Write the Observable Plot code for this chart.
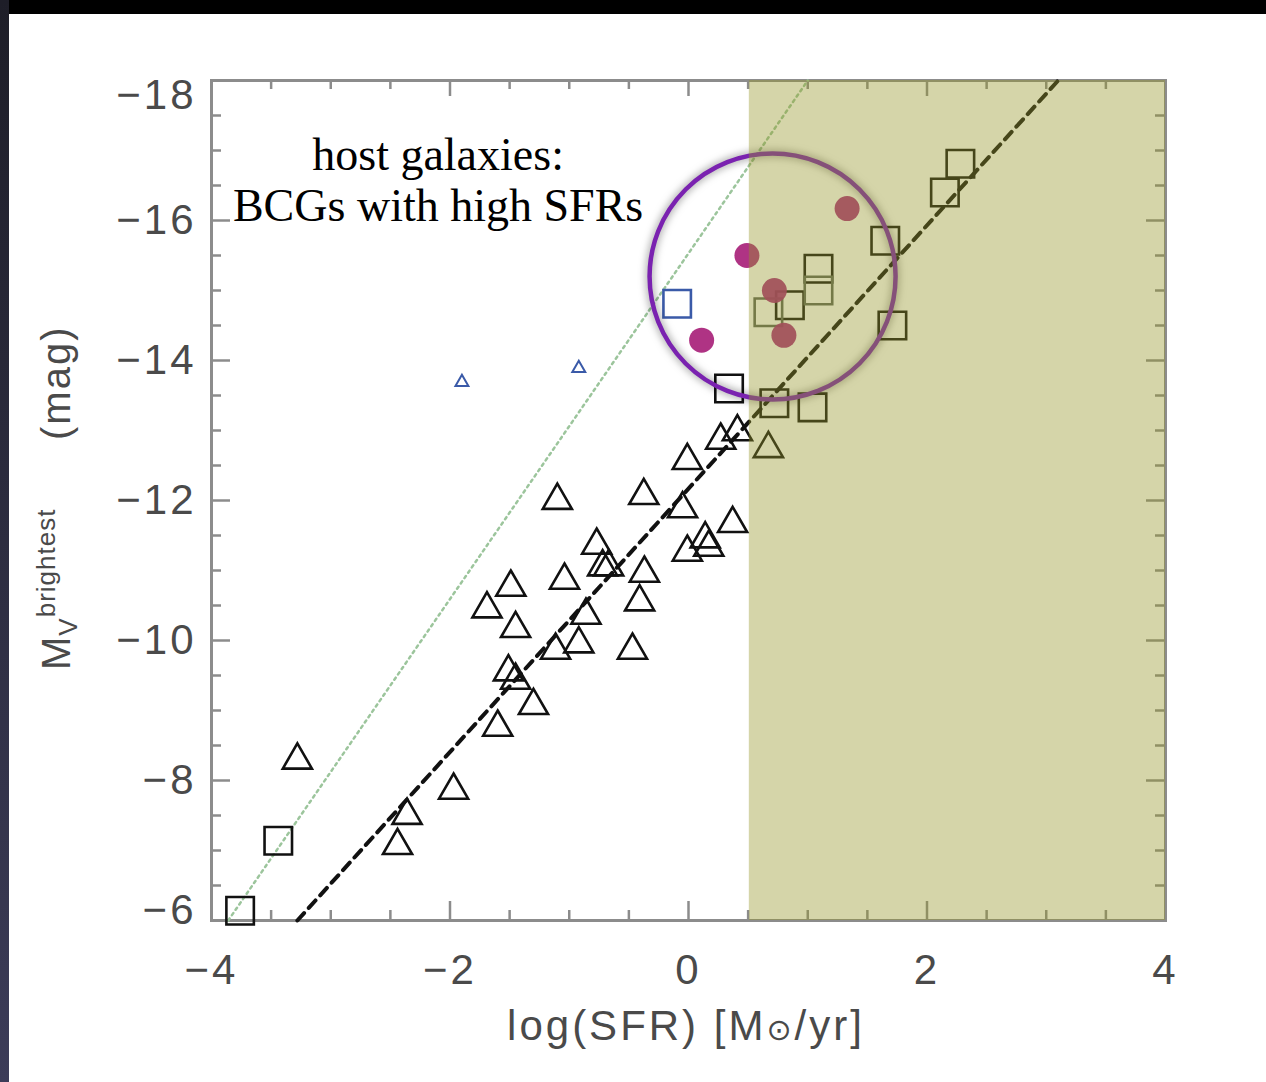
<!DOCTYPE html>
<html><head><meta charset="utf-8">
<script src="https://cdn.jsdelivr.net/npm/d3@7"></script>
<script src="https://cdn.jsdelivr.net/npm/@observablehq/plot@0.6"></script>
<style>
html,body{margin:0;padding:0;background:#fff;width:1266px;height:1082px;overflow:hidden;}
#wrap{position:relative;width:1266px;height:1082px;}
#topband{position:absolute;left:0;top:0;width:1266px;height:14px;background:#000;}
#leftband{position:absolute;left:0;top:0;width:9px;height:1082px;background:linear-gradient(#1e1e28,#3c3c58);}
.ring circle{filter:drop-shadow(0 0 4px rgba(0,0,0,0.55));}
.ticklab text{letter-spacing:3px;}
</style></head><body><div id="wrap"></div>
<script>
// ---- data ----
// open triangles (black)
const triSFR = [-3.28,-2.36,-2.44,-1.97,-1.60,-1.69,-1.49,-1.45,-1.51,-1.45,-1.30,-1.10,-1.04,-1.115,-0.92,-0.86,-0.77,-0.72,-0.67,-0.47,-0.41,-0.37,-0.375,-0.01,-0.05,-0.01,0.14,0.17,0.37,0.27,0.41,0.67];
const triMV  = [-8.29,-7.50,-7.07,-7.86,-8.76,-10.45,-10.76,-10.17,-9.55,-9.43,-9.07,-12.00,-10.86,-9.86,-9.95,-10.36,-11.36,-11.05,-11.05,-9.86,-10.55,-10.96,-12.07,-12.57,-11.88,-11.26,-11.45,-11.33,-11.67,-12.86,-12.98,-12.74];
// open squares (black)
const sqSFR = [-3.76,-3.44,0.34,0.72,1.04,0.85,1.09,1.65,1.71,2.15,2.28];
const sqMV  = [-6.14,-7.14,-13.60,-13.39,-13.33,-14.79,-15.31,-15.71,-14.50,-16.40,-16.81];
// open squares (grey)
const greySqSFR = [0.67,1.09];
const greySqMV  = [-14.69,-15.00];
// blue square and small blue triangles
const blueSqSFR = [-0.095];
const blueSqMV  = [-14.81];
const blueTriSFR = [-1.90,-0.92];
const blueTriMV  = [-13.69,-13.89];
// filled purple circles (host galaxies)
const hostSFR = [1.33,0.49,0.72,0.80,0.11];
const hostMV  = [-16.17,-15.50,-15.00,-14.36,-14.29];
// relations
const dashedSFR = [-3.28,3.10];
const dashedMV  = [-6,-18];
const dottedSFR = [-3.86,1.00];
const dottedMV  = [-6,-18];
// shaded high-SFR region
const shadeSFR = [0.51,4];
const shadeMV  = [-6,-18];
// highlight ring
const ringSFR = [0.705];
const ringMV  = [-15.2];
// annotation
const noteText = ["host galaxies:\nBCGs with high SFRs"];
const noteSFR = [-2.10];
const noteMV  = [-16.62];
// ticks
const xMajorTicks = [-4,-2,0,2,4];
const xMinorTicks = [-3.5,-3,-2.5,-1.5,-1,-0.5,0.5,1,1.5,2.5,3,3.5];
const yMajorTicks = [-18,-16,-14,-12,-10,-8,-6];
const yMinorTicks = [-17.5,-17,-16.5,-15.5,-15,-14.5,-13.5,-13,-12.5,-11.5,-11,-10.5,-9.5,-9,-8.5,-7.5,-7,-6.5];
const yInnerLabels = [-16,-14,-12,-10,-8];

const pts = (xs, ys) => xs.map((x, i) => ({x, y: ys[i]}));

const W = 1266, H = 1082, mL = 211, mR = 101, mT = 80, mB = 162;
const iW = W - mL - mR, iH = H - mT - mB;
const axisGrey = "#8c8c8c";
const labGrey = "#4a4a4a";

const plot = Plot.plot({
  width: W, height: H,
  marginLeft: mL, marginRight: mR, marginTop: mT, marginBottom: mB,
  x: {domain: [-4, 4], label: null},
  y: {domain: [-6, -18], label: null},
  style: {background: "transparent", fontFamily: "'Liberation Sans', Arial, sans-serif"},
  marks: [
    Plot.frame({stroke: axisGrey, strokeWidth: 3}),
    Plot.tickX(xMajorTicks, {x: d => d, insetTop: iH - 19, stroke: axisGrey, strokeWidth: 2.5}),
    Plot.tickX(xMajorTicks, {x: d => d, insetBottom: iH - 16, stroke: axisGrey, strokeWidth: 2.5}),
    Plot.tickX(xMinorTicks, {x: d => d, insetTop: iH - 10, stroke: axisGrey, strokeWidth: 2.5}),
    Plot.tickX(xMinorTicks, {x: d => d, insetBottom: iH - 9, stroke: axisGrey, strokeWidth: 2.5}),
    Plot.tickY(yMajorTicks, {y: d => d, insetRight: iW - 19, stroke: axisGrey, strokeWidth: 2.5}),
    Plot.tickY(yMajorTicks, {y: d => d, insetLeft: iW - 19, stroke: axisGrey, strokeWidth: 2.5}),
    Plot.tickY(yMinorTicks, {y: d => d, insetRight: iW - 10, stroke: axisGrey, strokeWidth: 2.5}),
    Plot.tickY(yMinorTicks, {y: d => d, insetLeft: iW - 10, stroke: axisGrey, strokeWidth: 2.5}),
    Plot.line(pts(dottedSFR, dottedMV), {x: "x", y: "y", stroke: "#9cc59c", strokeWidth: 2.5, strokeDasharray: "2.5,4"}),
    Plot.line(pts(dashedSFR, dashedMV), {x: "x", y: "y", stroke: "#111", strokeWidth: 4, strokeDasharray: "10,7"}),
    Plot.dot(pts(triSFR, triMV), {x: "x", y: "y", symbol: "triangle", r: 10.8, stroke: "#111", strokeWidth: 2.6, fill: "none"}),
    Plot.dot(pts(blueTriSFR, blueTriMV), {x: "x", y: "y", symbol: "triangle", r: 4.8, stroke: "#3a5aa8", strokeWidth: 2, fill: "none"}),
    Plot.dot(pts(sqSFR, sqMV), {x: "x", y: "y", symbol: "square", r: 15.5, stroke: "#111", strokeWidth: 2.6, fill: "none"}),
    Plot.dot(pts(greySqSFR, greySqMV), {x: "x", y: "y", symbol: "square", r: 15.5, stroke: "#5e665c", strokeWidth: 2.6, fill: "none"}),
    Plot.dot(pts(blueSqSFR, blueSqMV), {x: "x", y: "y", symbol: "square", r: 15.5, stroke: "#3a5aa8", strokeWidth: 2.6, fill: "none"}),
    Plot.dot(pts(hostSFR, hostMV), {x: "x", y: "y", r: 12.5, fill: "#a8227a", fillOpacity: 0.92, stroke: "none"}),
    Plot.dot(pts(ringSFR, ringMV), {x: "x", y: "y", r: 123, stroke: "#7a22b0", strokeWidth: 4.5, fill: "none", className: "ring"}),
    Plot.rect([0], {x1: () => shadeSFR[0], x2: () => shadeSFR[1], y1: () => shadeMV[0], y2: () => shadeMV[1], fill: "rgb(150,150,40)", fillOpacity: 0.4}),
    Plot.text(noteText.map((t, i) => ({t, x: noteSFR[i], y: noteMV[i]})), {x: "x", y: "y", text: "t", fontFamily: "'Liberation Serif', 'Times New Roman', serif", fontSize: 46, lineHeight: 1.12, fill: "#000", textAnchor: "middle", dy: 2}),
    Plot.axisX({anchor: "bottom", ticks: xMajorTicks, tickSize: 0, tickPadding: 34, fontSize: 42, color: labGrey, label: null, className: "ticklab"}),
    Plot.axisY({anchor: "left", ticks: yInnerLabels, tickSize: 0, tickPadding: 15, fontSize: 42, color: labGrey, label: null, className: "ticklab"}),
    Plot.axisY({anchor: "left", ticks: [yMajorTicks[0]], tickSize: 0, tickPadding: 15, dy: 15, fontSize: 42, color: labGrey, label: null, className: "ticklab"}),
    Plot.axisY({anchor: "left", ticks: [yMajorTicks[yMajorTicks.length - 1]], tickSize: 0, tickPadding: 15, dy: -10, fontSize: 42, color: labGrey, label: null, className: "ticklab"})
  ]
});

const svg = d3.select(plot);
// x-axis title
const xt = svg.append("text")
  .attr("x", mL + iW * 0.5 - 2).attr("y", 1040)
  .attr("text-anchor", "middle")
  .style("font-family", "'Liberation Sans', Arial, sans-serif")
  .style("font-size", "42px").style("letter-spacing", "3px")
  .attr("fill", labGrey);
xt.append("tspan").text("log(SFR) [M");
xt.append("tspan").style("font-family", "'DejaVu Sans', sans-serif").style("font-size", "30px").text("⊙");
xt.append("tspan").text("/yr]");
// y-axis title (rotated)
const yg = svg.append("g").attr("transform", "translate(70,670) rotate(-90)")
  .style("font-family", "'Liberation Sans', Arial, sans-serif").attr("fill", labGrey);
const yt = yg.append("text").attr("x", 0).attr("y", 0).attr("text-anchor", "start")
  .style("font-size", "40px").style("letter-spacing", "1px");
yt.append("tspan").text("M");
yt.append("tspan").attr("dy", 7).style("font-size", "26px").text("V");
yt.append("tspan").attr("dy", -22).style("font-size", "26px").text("brightest");
yg.append("text").attr("x", 230).attr("y", 0).attr("text-anchor", "start")
  .style("font-size", "40px").style("letter-spacing", "2px").text("(mag)");

const wrap = document.getElementById("wrap");
wrap.appendChild(plot);
plot.style.position = "absolute"; plot.style.left = "0"; plot.style.top = "0";
const tb = document.createElement("div"); tb.id = "topband"; wrap.appendChild(tb);
const lb = document.createElement("div"); lb.id = "leftband"; wrap.appendChild(lb);
</script>
</body></html>
